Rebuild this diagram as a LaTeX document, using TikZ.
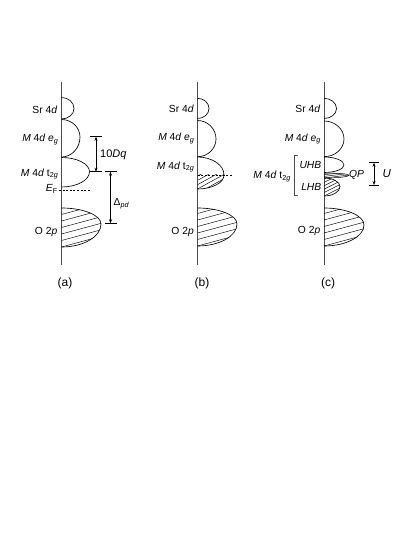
\documentclass[tikz,border=0pt]{standalone}
\usepackage{fontspec}
\setmainfont{Liberation Sans}
\usetikzlibrary{arrows.meta}
% lobe path: x0, y-start, y-peak, y-end, width
\newcommand{\bumppath}[5]{(#1,#2) .. controls ({#1+0.552*#5},#2) and ({#1+#5},{#3-0.552*(#3-#2)}) .. ({#1+#5},#3) .. controls ({#1+#5},{#3+0.552*(#4-#3)}) and ({#1+0.552*#5},#4) .. (#1,#4)}
% hatch lines inside a lobe: x0,y1,yp,y2,w,slope,spacing,count
\newcommand{\hatchlobe}[8]{%
\begin{scope}
\clip \bumppath{#1}{#2}{#3}{#4}{#5} -- cycle;
\foreach \k in {-6,...,#8} \draw[hatch] (#1,{#4-\k*#7}) -- ++(70,{-70*#6});
\end{scope}}
\begin{document}
\begin{tikzpicture}[x=1pt,y=-1pt,
  axis/.style={line width=0.8pt, black!70},
  lobe/.style={line width=0.65pt},
  hatch/.style={line width=0.45pt},
  lbl/.style={font=\fontsize{10.3}{12}\selectfont, inner sep=0pt, anchor=east},
  rlbl/.style={font=\fontsize{10.3}{12}\selectfont, inner sep=0pt, anchor=west},
  plbl/.style={font=\fontsize{12}{14}\selectfont, inner sep=0pt},
  dimarrow/.style={line width=0.6pt, {Stealth[length=4pt,width=3pt]}-{Stealth[length=4pt,width=3pt]}},
  tickline/.style={line width=0.6pt},
  fermi/.style={line width=0.5pt, dash pattern=on 2pt off 1.6pt}]
\useasboundingbox (0,0) rectangle (415,537);

% ================= panel (a) =================
\draw[axis] (61.5,82) -- (61.5,265);
\draw[lobe] \bumppath{61.5}{97.5}{108.5}{119}{12.5};
\draw[lobe] \bumppath{61.5}{119.5}{137}{157}{18.5};
\draw[lobe] \bumppath{61.5}{157.5}{171.7}{187}{28};
\hatchlobe{61.5}{208}{224}{247}{39.5}{0.27}{6.5}{8}
\draw[lobe] \bumppath{61.5}{208}{224}{247}{39.5};
\draw[fermi] (59,190.5) -- (90,190.5);

\node[lbl] (a-sr) at (57.5,109.5) {Sr 4\textit{d}};
\node[lbl] (a-eg) at (58.5,139.5) {\textit{M} 4\textit{d e}\textsubscript{\textit{g}}};
\node[lbl] (a-t2g) at (58.5,174) {\textit{M} 4\textit{d} t\textsubscript{2\textit{g}}};
\node[lbl] (a-ef) at (58,189) {\textit{E}\textsubscript{F}};
\node[lbl] (a-o) at (57.5,232) {O 2\textit{p}};

\coordinate (dq-top) at (96,136.7);
\coordinate (dq-bot) at (96,171.7);
\coordinate (pd-top) at (110.5,171.7);
\coordinate (pd-bot) at (110.5,223.3);
\draw[tickline] (90,136.7) -- (102,136.7);
\draw[tickline] (89.5,171.7) -- (102,171.7);
\draw[tickline] (105,171.7) -- (117,171.7);
\draw[tickline] (105,223.3) -- (117,223.3);
\draw[dimarrow] (dq-top) -- (dq-bot);
\draw[dimarrow] (pd-top) -- (pd-bot);
\node[rlbl, font=\fontsize{11}{13}\selectfont] (a-dq) at (100,155) {10\textit{Dq}};
\node[rlbl] (a-pd) at (113.5,203.5) {Δ\textsubscript{\textit{pd}}};

\node[plbl] (a-cap) at (65,283.5) {(a)};

% ================= panel (b) =================
\draw[axis] (197.5,82) -- (197.5,265);
\draw[lobe] \bumppath{197.5}{98.3}{108.5}{118.5}{11.5};
\draw[lobe] \bumppath{197.5}{120.5}{139}{156.7}{18.5};
\begin{scope}
  \clip (197.5,175) rectangle (240,200);
  \hatchlobe{197.5}{157}{175}{189}{26.5}{0.55}{4.3}{6}
\end{scope}
\draw[lobe] \bumppath{197.5}{157}{175}{189}{26.5};
\draw[fermi] (197.5,175) -- (232,175);
\hatchlobe{197.5}{208}{224}{246}{39.5}{0.27}{6.5}{8}
\draw[lobe] \bumppath{197.5}{208}{224}{246}{39.5};

\node[lbl] (b-sr) at (194,109) {Sr 4\textit{d}};
\node[lbl] (b-eg) at (194.5,138.5) {\textit{M} 4\textit{d e}\textsubscript{\textit{g}}};
\node[lbl] (b-t2g) at (194.5,167) {\textit{M} 4\textit{d} t\textsubscript{2\textit{g}}};
\node[lbl] (b-o) at (194,231.5) {O 2\textit{p}};

\node[plbl] (b-cap) at (202,283.5) {(b)};

% ================= panel (c) =================
\draw[axis] (324,82) -- (324,265);
\draw[lobe] \bumppath{324}{98.3}{108.5}{118.5}{12.5};
\draw[lobe] \bumppath{324}{121}{139}{156.7}{20};
\draw[lobe] \bumppath{324}{157}{165}{172.5}{20};
\hatchlobe{324}{173}{175.2}{178}{25}{0.12}{1.6}{4}
\draw[lobe, line width=0.5pt] \bumppath{324}{173}{175.2}{178}{25};
\hatchlobe{324}{178}{186.5}{196}{16}{0.5}{3.4}{6}
\draw[lobe] \bumppath{324}{178}{186.5}{196}{16};
\hatchlobe{324}{208}{225}{246}{40}{0.27}{6.5}{8}
\draw[lobe] \bumppath{324}{208}{225}{246}{40};

\node[lbl] (c-sr) at (320.5,108.5) {Sr 4\textit{d}};
\node[lbl] (c-eg) at (321,139) {\textit{M} 4\textit{d e}\textsubscript{\textit{g}}};
\node[lbl] (c-uhb) at (321.5,165) {\textit{UHB}};
\node[lbl] (c-lhb) at (321.5,186.5) {\textit{LHB}};
\node[lbl] (c-t2g) at (291,176.5) {\textit{M} 4\textit{d} t\textsubscript{2\textit{g}}};
\node[rlbl] (c-qp) at (349,175) {\textit{QP}};
\node[lbl] (c-o) at (320.5,231) {O 2\textit{p}};

\draw[tickline, black!70] (297.5,155) -- (294,155) -- (294,195) -- (297.5,195);

\coordinate (u-top) at (374,162.7);
\coordinate (u-bot) at (374,185);
\draw[tickline] (369,162.7) -- (379,162.7);
\draw[tickline] (369,185) -- (379,185);
\draw[dimarrow] (u-top) -- (u-bot);
\node[rlbl, font=\fontsize{11.5}{13}\selectfont] (c-u) at (382.5,174) {\textit{U}};

\node[plbl] (c-cap) at (328,283.5) {(c)};
\end{tikzpicture}
\end{document}
